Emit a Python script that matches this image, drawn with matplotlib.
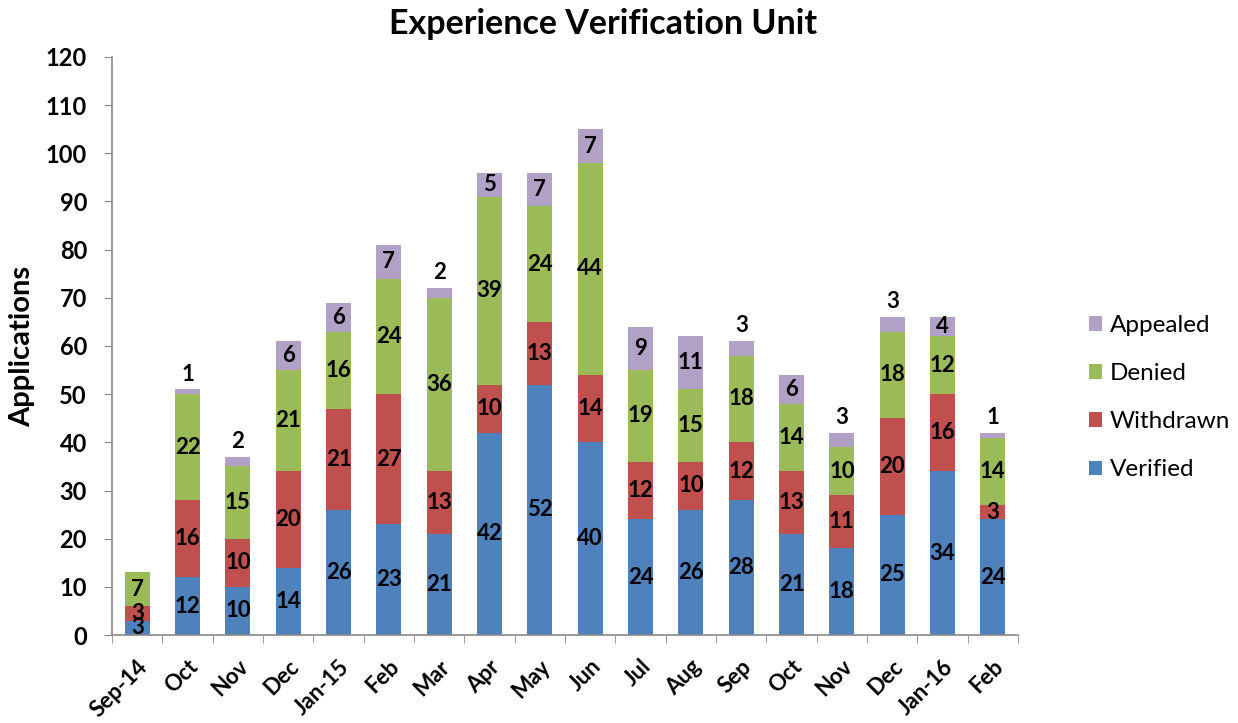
import matplotlib
matplotlib.use("Agg")
import matplotlib.pyplot as plt
import numpy as np

months = ["Sep-14", "Oct", "Nov", "Dec", "Jan-15", "Feb", "Mar", "Apr", "May",
          "Jun", "Jul", "Aug", "Sep", "Oct", "Nov", "Dec", "Jan-16", "Feb"]
verified = [3, 12, 10, 14, 26, 23, 21, 42, 52, 40, 24, 26, 28, 21, 18, 25, 34, 24]
withdrawn = [3, 16, 10, 20, 21, 27, 13, 10, 13, 14, 12, 10, 12, 13, 11, 20, 16, 3]
denied = [7, 22, 15, 21, 16, 24, 36, 39, 24, 44, 19, 15, 18, 14, 10, 18, 12, 14]
appealed = [0, 1, 2, 6, 6, 7, 2, 5, 7, 7, 9, 11, 3, 6, 3, 3, 4, 1]

series = [("Verified", verified, "#4F81BD"),
          ("Withdrawn", withdrawn, "#C0504D"),
          ("Denied", denied, "#9BBB59"),
          ("Appealed", appealed, "#B2A1C7")]

plt.rcParams["font.family"] = ["Lato", "DejaVu Sans"]
FS = 16
TICK_FS = 17

fig = plt.figure(figsize=(12.38, 7.23), dpi=100)
ax = fig.add_axes([0.0905, 0.1217, 0.7318, 0.7995])

x = np.arange(len(months))
bottom = np.zeros(len(months))
handles = []
for name, vals, color in series:
    vals = np.array(vals, dtype=float)
    bars = ax.bar(x, vals, 0.5, bottom=bottom, color=color, label=name)
    handles.append(bars)
    for xi, v, b in zip(x, vals, bottom):
        if v <= 0:
            continue
        if name == "Appealed" and v <= 3:
            # small segments get their label above the bar
            ax.text(xi, b + v + 1.0, f"{int(v)}", ha="center", va="bottom",
                    fontsize=FS, fontweight="bold")
        else:
            ax.text(xi, b + v / 2, f"{int(v)}", ha="center", va="center",
                    fontsize=FS, fontweight="bold")
    bottom += vals

ax.set_xlim(-0.5, len(months) - 0.5)
ax.set_ylim(0, 120)
ax.set_yticks(range(0, 121, 10))
ax.set_xticks(x)
ax.set_xticklabels(months, rotation=45, ha="right", rotation_mode="anchor",
                   fontsize=16, fontweight="bold")
ax.set_xticks(np.arange(-0.5, len(months), 1), minor=True)
ax.tick_params(axis="x", which="major", length=0, pad=15)
ax.tick_params(axis="x", which="minor", length=6, color="#888888", direction="out")
ax.tick_params(axis="y", length=6, color="#888888", direction="out",
               labelsize=TICK_FS, pad=12)
for lbl in ax.get_yticklabels():
    lbl.set_fontweight("bold")

for s in ("top", "right"):
    ax.spines[s].set_visible(False)
for s in ("left", "bottom"):
    ax.spines[s].set_color("#888888")
    ax.spines[s].set_linewidth(1.2)

ax.set_ylabel("Applications", fontsize=21, fontweight="bold")
ax.yaxis.set_label_coords(-0.085, 0.5)
fig.text(0.487, 0.967, "Experience Verification Unit", ha="center", va="center",
         fontsize=24.5, fontweight="bold")

fig.legend(handles[::-1], [s[0] for s in series][::-1], loc="center left",
           bbox_to_anchor=(0.862, 0.45), frameon=False, fontsize=17.5,
           handlelength=0.55, handleheight=0.55, labelspacing=1.12,
           handletextpad=0.3)

fig.savefig("out.png", dpi=100)
